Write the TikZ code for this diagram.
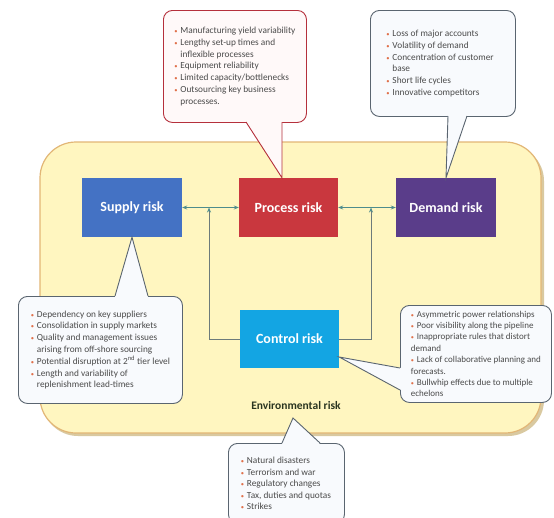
\documentclass[tikz,border=0pt]{standalone}
\usepackage{fontspec}
\setmainfont{Carlito}
\usetikzlibrary{arrows.meta,calc}
\definecolor{yelfill}{HTML}{FFF6C0}
\definecolor{yelline}{HTML}{E2B676}
\definecolor{yelshadow}{HTML}{D9C9A0}
\definecolor{supc}{HTML}{4472C4}
\definecolor{proc}{HTML}{C9373E}
\definecolor{demc}{HTML}{5A3D8A}
\definecolor{conc}{HTML}{13A5E3}
\definecolor{calline}{HTML}{5A6570}
\definecolor{calfill}{HTML}{F8FAFD}
\definecolor{redline}{HTML}{B5303C}
\definecolor{redfill}{HTML}{FFF9F9}
\definecolor{txtc}{HTML}{4A4A4A}
\definecolor{bulc}{HTML}{E0704A}
\definecolor{connc}{HTML}{4E8C8C}
\definecolor{vline}{HTML}{6D7B7B}
\definecolor{envtxt}{HTML}{2A3520}
\newcommand{\bm}{\makebox[6pt][l]{\textcolor{bulc}{\scalebox{0.7}{•}}}}
\newcommand{\hg}{\hspace*{6pt}}
\begin{document}
\begin{tikzpicture}[x=1pt,y=-1pt,
  riskbox/.style={minimum width=100pt,minimum height=59pt,inner sep=0pt,text=white,
    font=\fontsize{14}{16}\selectfont\bfseries},
  callout/.style={draw=calline,fill=calfill,line width=0.9pt,rounded corners=9pt,
    anchor=north west,align=left,inner xsep=4pt,inner ysep=4pt,text=txtc,
    font=\fontsize{9.3}{11.8}\selectfont},
  redcallout/.style={callout,draw=redline,fill=redfill},
  conn/.style={draw=connc,line width=1pt,{Stealth[length=5pt,width=4pt]}-{Stealth[length=5pt,width=4pt]}},
  vconn/.style={draw=vline,line width=0.9pt,-{Stealth[length=5pt,width=4pt,color=connc]}}
]
\useasboundingbox (0,0) rectangle (554,517);
\fill[white] (0,0) rectangle (554,517);
% environment area
\fill[yelshadow,rounded corners=36pt] (42,145) rectangle (544,436);
\node[draw=yelline,fill=yelfill,line width=1.2pt,rounded corners=36pt,
  minimum width=501pt,minimum height=291pt,inner sep=0pt] (envarea) at (290.5,287.5) {};
\node[font=\fontsize{11.5}{14}\selectfont\bfseries,text=envtxt] (envlabel) at (296,405) {Environmental risk};
% risk boxes
\node[riskbox,fill=supc] (supply) at (132,207.5) {Supply risk};
\node[riskbox,fill=proc,minimum width=99pt] (process) at (288.5,207.5) {Process risk};
\node[riskbox,fill=demc] (demand) at (446,207.5) {Demand risk};
\node[riskbox,fill=conc,minimum width=99pt,minimum height=58pt] (control) at (289.5,339) {Control risk};
% connectors
\coordinate (jl) at (209,207.5);
\coordinate (jr) at (371,207.5);
\draw[vconn] (control.west) -| (jl);
\draw[vconn] (control.east) -| (jr);
\draw[conn] (supply.east) -- (process.west);
\draw[conn] (process.east) -- (demand.west);
% callouts
\node[redcallout,minimum width=143pt,minimum height=112pt] (pcall) at (163,10) {%
\bm Manufacturing yield variability\\
\bm Lengthy set-up times and\\
\hg inflexible processes\\
\bm Equipment reliability\\
\bm Limited capacity/bottlenecks\\
\bm Outsourcing key business\\
\hg processes.};
\node[callout,minimum width=145pt,minimum height=106pt] (dcall) at (370,10) {%
\bm Loss of major accounts\\
\bm Volatility of demand\\
\bm Concentration of customer\\
\hg base\\
\bm Short life cycles\\
\bm Innovative competitors\hspace*{20pt}};
\node[callout,minimum width=164pt,minimum height=107pt] (scall) at (18,296) {%
\bm Dependency on key suppliers\\
\bm Consolidation in supply markets\\
\bm Quality and management issues\\
\hg arising from off-shore sourcing\\
\bm Potential disruption at 2\textsuperscript{nd} tier level\\
\bm Length and variability of\\
\hg replenishment lead-times};
\node[callout,minimum width=151pt,minimum height=97pt,font=\fontsize{9}{11.4}\selectfont] (ccall) at (400,305) {%
\bm Asymmetric power relationships\\
\bm Poor visibility along the pipeline\\
\bm Inappropriate rules that distort\\
demand\\
\bm Lack of collaborative planning and\\
forecasts.\\
\bm Bullwhip effects due to multiple\\
echelons};
\node[callout,minimum width=116pt,minimum height=80pt,inner ysep=3pt,
  font=\fontsize{9.3}{11.5}\selectfont] (ecall) at (228,443) {%
\bm Natural disasters\\
\bm Terrorism and war\\
\bm Regulatory changes\\
\bm Tax, duties and quotas\\
\bm Strikes\hspace*{60pt}};
% pointers
\fill[redfill] (246,121) -- ($(process.north)+(-6.5,0)$) -- (282,121) -- cycle;
\draw[redline,line width=0.9pt] (246,122) -- ($(process.north)+(-6.5,0)$) -- (282,122);
\fill[calfill] (448,115) -- (demand.north) -- (467,115) -- cycle;
\draw[calline,line width=0.9pt] (448,116) -- (demand.north) -- (467,116);
\fill[calfill] (115,297) -- (supply.south) -- (148,297) -- cycle;
\draw[calline,line width=0.9pt] (115,296) -- (supply.south) -- (148,296);
\fill[calfill] (401,368) -- ($(control.east)+(0,18)$) -- (401,390) -- cycle;
\draw[calline,line width=0.9pt] (400,368) -- ($(control.east)+(0,18)$) -- (400,390);
\fill[calfill] (282,444) -- (293,418) -- (320,444) -- cycle;
\draw[calline,line width=0.9pt] (282,443) -- (293,418) -- (320,443);
\end{tikzpicture}
\end{document}
